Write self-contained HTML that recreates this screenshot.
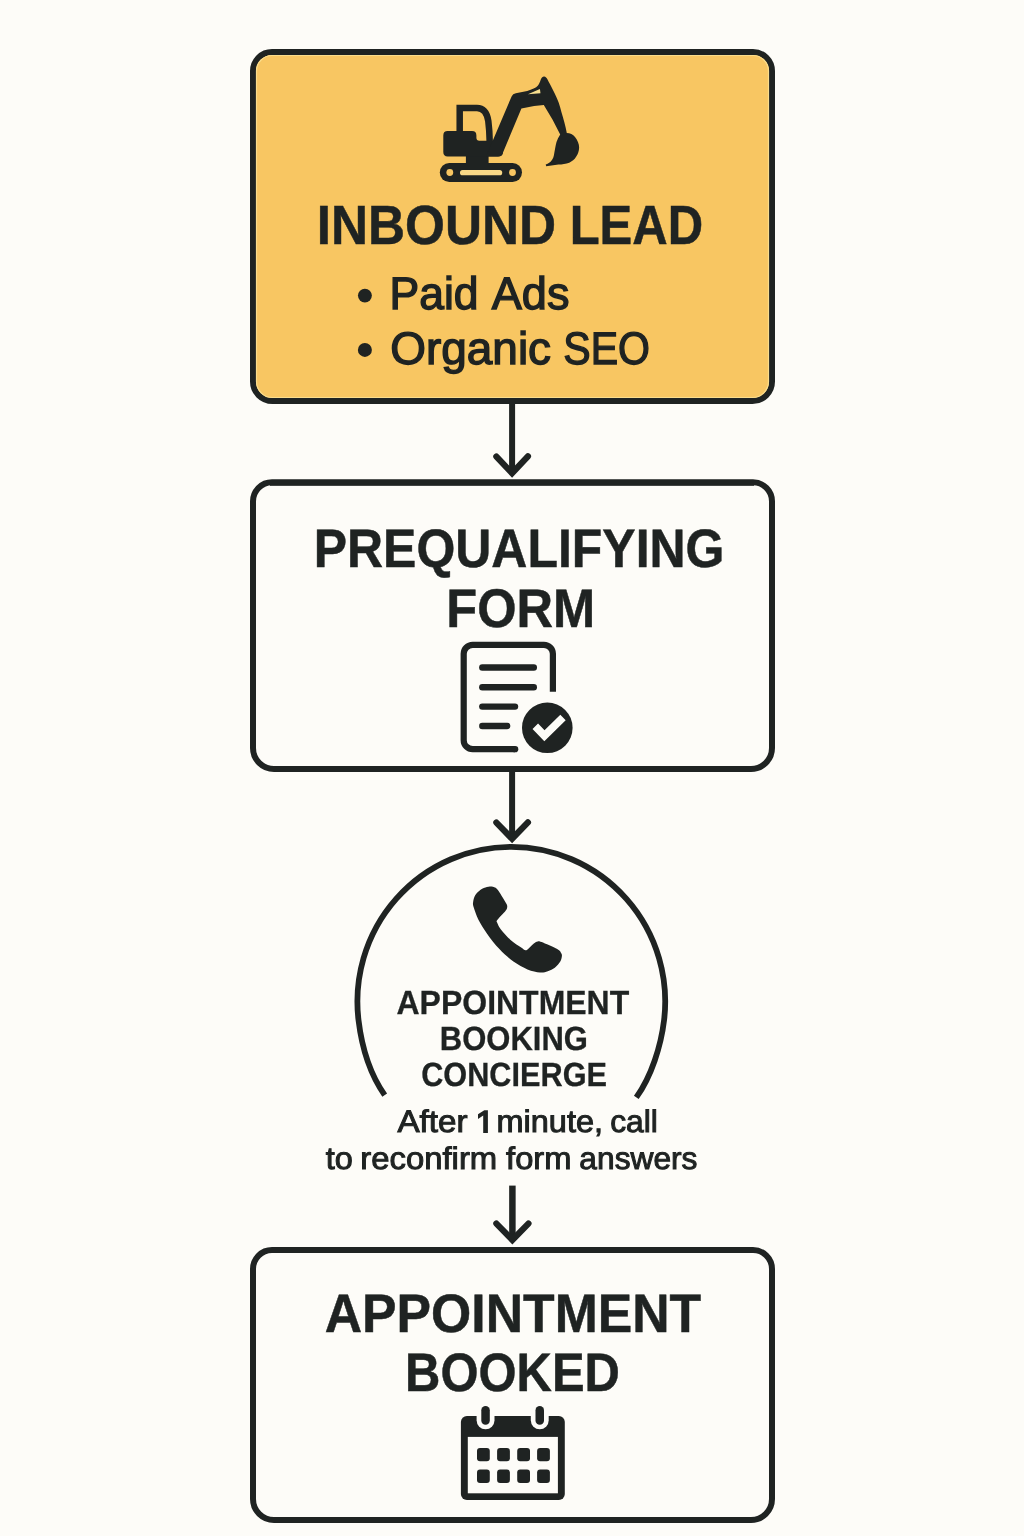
<!DOCTYPE html>
<html>
<head>
<meta charset="utf-8">
<title>Lead Flow</title>
<style>
  html,body{margin:0;padding:0;}
  body{width:1024px;height:1536px;background:#FDFCF8;position:relative;overflow:hidden;
       font-family:"Liberation Sans",sans-serif;color:#1F2322;}
  svg.art{position:absolute;left:0;top:0;width:1024px;height:1536px;}
  .labels{position:absolute;left:0;top:0;width:1024px;height:1536px;will-change:transform;}
  .t{position:absolute;left:0;top:0;text-rendering:geometricPrecision;white-space:nowrap;line-height:1;transform-origin:0 0;margin:0;
     -webkit-text-stroke:0.6px #1F2322;}
  .b{font-weight:bold;}
</style>
</head>
<body>
<svg class="art" viewBox="0 0 1024 1536">
  <g fill="none" stroke="#1F2322" stroke-width="6">
    <!-- boxes -->
    <path d="M272 52H753A19 19 0 0 1 772 71V381.5A19.5 19.5 0 0 1 752.5 401H272.5A19.5 19.5 0 0 1 253 381.5V71A19 19 0 0 1 272 52Z" fill="#F8C662"/>
    <path d="M272.0 55.5H753.0A15.5 15.5 0 0 1 768.5 71.0V381.5A16 16 0 0 1 752.5 397.5H272.5A16 16 0 0 1 256.5 381.5V71.0A15.5 15.5 0 0 1 272.0 55.5Z" stroke="#FBDD8C" stroke-width="1.2"/>
    <path d="M272 482.3H753A19 19 0 0 1 772 501.3V748.0A21 21 0 0 1 751 769.0H274A21 21 0 0 1 253 748.0V501.3A19 19 0 0 1 272 482.3Z"/>
    <path d="M272 1250H753A19 19 0 0 1 772 1269V1499A21 21 0 0 1 751 1520H274A21 21 0 0 1 253 1499V1269A19 19 0 0 1 272 1250Z"/>
    <path d="M270 485.5H754" stroke-width="0.8"/>
    <!-- arrows -->
    <path d="M512.1 401V474"/>
    <path d="M512.1 769V839"/>
    <path d="M512.4 1185.6V1240" stroke-width="6.5"/>
  </g>
  <g fill="none" stroke="#1F2322" stroke-width="6.3" stroke-linecap="round" stroke-linejoin="miter">
    <path d="M496.4 456.6L512.1 473.2L527.9 456.4"/>
    <path d="M496.4 822.6L512.1 838.8L527.9 822.4"/>
    <path d="M496.4 1223.6L512.4 1240L528.4 1223.6"/>
  </g>
  <!-- circle arc -->
  <path id="arc" d="M384.7 1095.1C369.8 1073.8 361.6 1045.8 358.5 1020A153.9 154.7 0 1 1 664.1 1020C661 1045.8 651.5 1076.3 636.3 1097.4" fill="none" stroke="#1F2322" stroke-width="5.8"/>

  <!-- excavator -->
  <g id="excavator" fill="#1F2322" stroke="none">
    <rect x="439.8" y="163.1" width="82.2" height="18.9" rx="9.45"/>
    <rect x="465.9" y="154" width="22.7" height="11"/>
    <path d="M447.7 131H472Q476.4 131 476.4 135.4V137.7Q476.4 140.7 479.4 140.7H494L503 152Q503 156.5 498 156.5H447.7Q443.3 156.5 443.3 152.1V135.4Q443.3 131 447.7 131Z"/>
    <path d="M459.7 133V108.1H477C484 108.1 487 113 488.3 121C489.2 128 489.6 134 489.7 142" fill="none" stroke="#1F2322" stroke-width="6.5" stroke-linejoin="miter"/>
    <path d="M486 156.5L511.6 96.4Q512.8 93.7 515.8 93.2L527.2 90.9C532 89.7 536 88 538 85.6C539.5 83.7 540 81.6 540.7 79.8C541.6 77.3 543 76.5 544.1 76.6C545.6 76.7 546.7 78 547.4 79.2C548.5 81.3 549.2 82.7 549.8 83.7L554.6 93.3C558 100 560 106 561.4 111.9C563.5 119 565.5 126 566.8 132.9C570 133 573 134.2 575 137C577.8 140.5 579.3 144.5 579.1 148C579 151 578 154 576.1 156.8C574.5 159.5 572 161.5 569.2 162.7C566 164 562 164.4 558.5 164.6L546.2 166.2L545.7 164.6C548.6 163.4 550.1 162.2 551.2 161C553.1 158.8 553.9 156 554.3 152.9C555 149.5 555.5 146 556.5 142.1C557.3 139.5 558.6 137 560.2 134.5L552.6 119.7L543.8 105L534.1 106L521.4 108.5L502.8 152.9Q501.5 156.2 498 156.5Z"/>
    <path d="M527.9 94.3L539.9 89L540.5 93.2Z" fill="#F6DE8E"/>
    <circle cx="449.8" cy="172.5" r="3.4" fill="#F8C662"/>
    <circle cx="512.5" cy="172.5" r="3.4" fill="#F8C662"/>
    <rect x="460" y="170.1" width="42.2" height="5.2" rx="2.6" fill="#F9D887"/>
  </g>

  <!-- form icon -->
  <g id="formicon" fill="none" stroke="#1F2322">
    <path d="M552.9 691.7V653.8A9 9 0 0 0 543.9 644.8H472.7A9 9 0 0 0 463.7 653.8V740.2A9 9 0 0 0 472.7 749.2H515" stroke-width="6.2"/>
    <path d="M515 749.2H515.2" stroke-width="6.2" stroke-linecap="round"/>
    <g stroke-width="6.4" stroke-linecap="round">
      <path d="M482.3 667.5H533.8"/>
      <path d="M482.3 687.3H533.8"/>
      <path d="M482.3 706.6H515"/>
      <path d="M482.3 726H507.2"/>
    </g>
    <circle cx="547.3" cy="727.8" r="25.3" fill="#1F2322" stroke="none"/>
    <path d="M535.3 726.3L544.4 735.7L563 717.6" stroke="#FDFCF8" stroke-width="7.7" stroke-linejoin="miter"/>
  </g>

  <!-- phone -->
  <path id="phone" fill="#1F2322" d="M491.6 886.6C493.3 886.9 495.3 887.3 497.0 888.9C498.7 890.5 500.2 893.5 501.7 895.9C503.3 898.4 505.5 901.9 506.4 903.8C507.3 905.6 507.3 905.7 507.2 906.9C507.1 908.0 507.2 908.6 505.6 910.8C504.0 912.9 498.9 917.8 497.5 919.8C496.1 921.8 496.6 921.2 497.2 922.8C497.8 924.4 498.8 926.7 500.9 929.5C503.1 932.3 506.9 936.7 510.3 939.7C513.7 942.7 518.6 945.8 521.2 947.5C523.9 949.2 524.3 950.8 526.4 950.2C528.5 949.5 531.9 945.0 533.8 943.6C535.6 942.2 536.4 941.8 537.7 941.6C539.0 941.3 538.3 940.8 541.6 942.0C544.8 943.3 553.9 947.2 557.2 949.1C560.4 950.9 560.3 951.8 561.1 953.0C561.9 954.1 562.0 954.7 561.9 956.1C561.7 957.5 561.5 959.6 560.3 961.6C559.1 963.5 556.9 966.2 554.8 967.8C552.8 969.4 550.3 970.5 547.8 971.2C545.3 972.0 543.4 972.8 540.0 972.5C536.6 972.2 531.9 971.2 527.5 969.4C523.1 967.6 518.1 964.9 513.4 961.6C508.8 958.2 503.8 953.8 499.4 949.1C494.9 944.4 490.4 938.4 486.9 933.4C483.4 928.5 480.5 923.8 478.3 919.4C476.1 914.9 474.5 909.7 473.6 906.9C472.7 904.0 472.9 904.1 473.1 902.2C473.4 900.2 473.9 897.2 475.2 895.2C476.4 893.1 478.7 891.1 480.6 889.7C482.6 888.3 485.1 887.4 486.9 886.9C488.7 886.4 489.9 886.2 491.6 886.6Z"/>

  <!-- calendar -->
  <g id="calendar">
    <rect x="460.9" y="1416" width="103.9" height="83.9" rx="6" fill="#1F2322"/>
    <rect x="467.8" y="1436.9" width="90.1" height="56.4" fill="#FDFCF8"/>
    <rect x="476.6" y="1400" width="17.9" height="29.3" rx="8.95" fill="#FDFCF8"/>
    <rect x="530.8" y="1400" width="17.9" height="29.3" rx="8.95" fill="#FDFCF8"/>
    <rect x="481.3" y="1406.1" width="8.5" height="18.6" rx="4.25" fill="#1F2322"/>
    <rect x="535.5" y="1406.1" width="8.5" height="18.6" rx="4.25" fill="#1F2322"/>
    <g fill="#1F2322">
      <rect x="477" y="1447.9" width="12.8" height="13.4" rx="3"/>
      <rect x="497.1" y="1447.9" width="12.8" height="13.4" rx="3"/>
      <rect x="517.2" y="1447.9" width="12.8" height="13.4" rx="3"/>
      <rect x="537.1" y="1447.9" width="12.8" height="13.4" rx="3"/>
      <rect x="477" y="1469.5" width="12.8" height="13.5" rx="3"/>
      <rect x="497.1" y="1469.5" width="12.8" height="13.5" rx="3"/>
      <rect x="517.2" y="1469.5" width="12.8" height="13.5" rx="3"/>
      <rect x="537.1" y="1469.5" width="12.8" height="13.5" rx="3"/>
    </g>
  </g>
  <!-- digit 1 (custom glyph to match flag-style numeral) -->
  <path id="one" fill="#1F2322" d="M487.9 1110.2V1132.9H483.2V1115.6L478 1119V1114.3L484.3 1110.2Z"/>
  <!-- bullets -->
  <circle cx="364.9" cy="295.6" r="6.95" fill="#1F2322"/>
  <circle cx="364.9" cy="349.9" r="7" fill="#1F2322"/>
</svg>
<div class="labels">
<!--TEXT-START-->
<div class="t b" id="t1a" style="font-size:55.3px;transform:translate(316.72px,197.59px) scaleX(0.9279);-webkit-text-stroke-width:0.5px">INBOUND</div>
<div class="t b" id="t1b" style="font-size:55.3px;transform:translate(569.63px,197.59px) scaleX(0.8867);-webkit-text-stroke-width:0.5px">LEAD</div>
<div class="t " id="t2a" style="font-size:45.6px;transform:translate(389.58px,271.04px) scaleX(0.9753);-webkit-text-stroke-width:1.4px">Paid</div>
<div class="t " id="t2b" style="font-size:45.6px;transform:translate(491.80px,271.04px) scaleX(0.9882);-webkit-text-stroke-width:1.4px">Ads</div>
<div class="t " id="t3a" style="font-size:45.6px;transform:translate(390.23px,326.34px) scaleX(1.0074);-webkit-text-stroke-width:1.4px">Organic</div>
<div class="t " id="t3b" style="font-size:45.6px;transform:translate(563.27px,326.34px) scaleX(0.8997);-webkit-text-stroke-width:1.4px">SEO</div>
<div class="t b" id="t4" style="font-size:54px;transform:translate(313.65px,522.00px) scaleX(0.9252);-webkit-text-stroke-width:0.5px">PREQUALIFYING</div>
<div class="t b" id="t5" style="font-size:54.3px;transform:translate(446.27px,581.64px) scaleX(0.9315);-webkit-text-stroke-width:0.5px">FORM</div>
<div class="t b" id="t6" style="font-size:33.6px;transform:translate(396.52px,987.19px) scaleX(0.9523);-webkit-text-stroke-width:0.3px">APPOINTMENT</div>
<div class="t b" id="t7" style="font-size:33.6px;transform:translate(439.83px,1023.19px) scaleX(0.9228);-webkit-text-stroke-width:0.3px">BOOKING</div>
<div class="t b" id="t8" style="font-size:33.6px;transform:translate(421.14px,1059.34px) scaleX(0.9138);-webkit-text-stroke-width:0.3px">CONCIERGE</div>
<div class="t " id="t9a" style="font-size:31.2px;transform:translate(397.39px,1106.23px) scaleX(1.0656);-webkit-text-stroke-width:1.0px">After</div>
<div class="t " id="t9c" style="font-size:31.2px;transform:translate(496.50px,1106.23px) scaleX(1.0418);-webkit-text-stroke-width:1.0px">minute,</div>
<div class="t " id="t9d" style="font-size:31.2px;transform:translate(610.14px,1106.23px) scaleX(1.0203);-webkit-text-stroke-width:1.0px">call</div>
<div class="t " id="t10a" style="font-size:31.2px;transform:translate(325.82px,1143.38px) scaleX(1.0410);-webkit-text-stroke-width:1.0px">to</div>
<div class="t " id="t10b" style="font-size:31.2px;transform:translate(360.28px,1143.38px) scaleX(1.0534);-webkit-text-stroke-width:1.0px">reconfirm</div>
<div class="t " id="t10c" style="font-size:31.2px;transform:translate(506.06px,1143.38px) scaleX(1.0484);-webkit-text-stroke-width:1.0px">form</div>
<div class="t " id="t10d" style="font-size:31.2px;transform:translate(579.36px,1143.38px) scaleX(1.0170);-webkit-text-stroke-width:1.0px">answers</div>
<div class="t b" id="t11" style="font-size:54.2px;transform:translate(324.77px,1286.73px) scaleX(0.9545);-webkit-text-stroke-width:0.5px">APPOINTMENT</div>
<div class="t b" id="t12" style="font-size:54px;transform:translate(405.11px,1346.40px) scaleX(0.9063);-webkit-text-stroke-width:0.5px">BOOKED</div>
<!--TEXT-END-->
</div>
</body>
</html>
